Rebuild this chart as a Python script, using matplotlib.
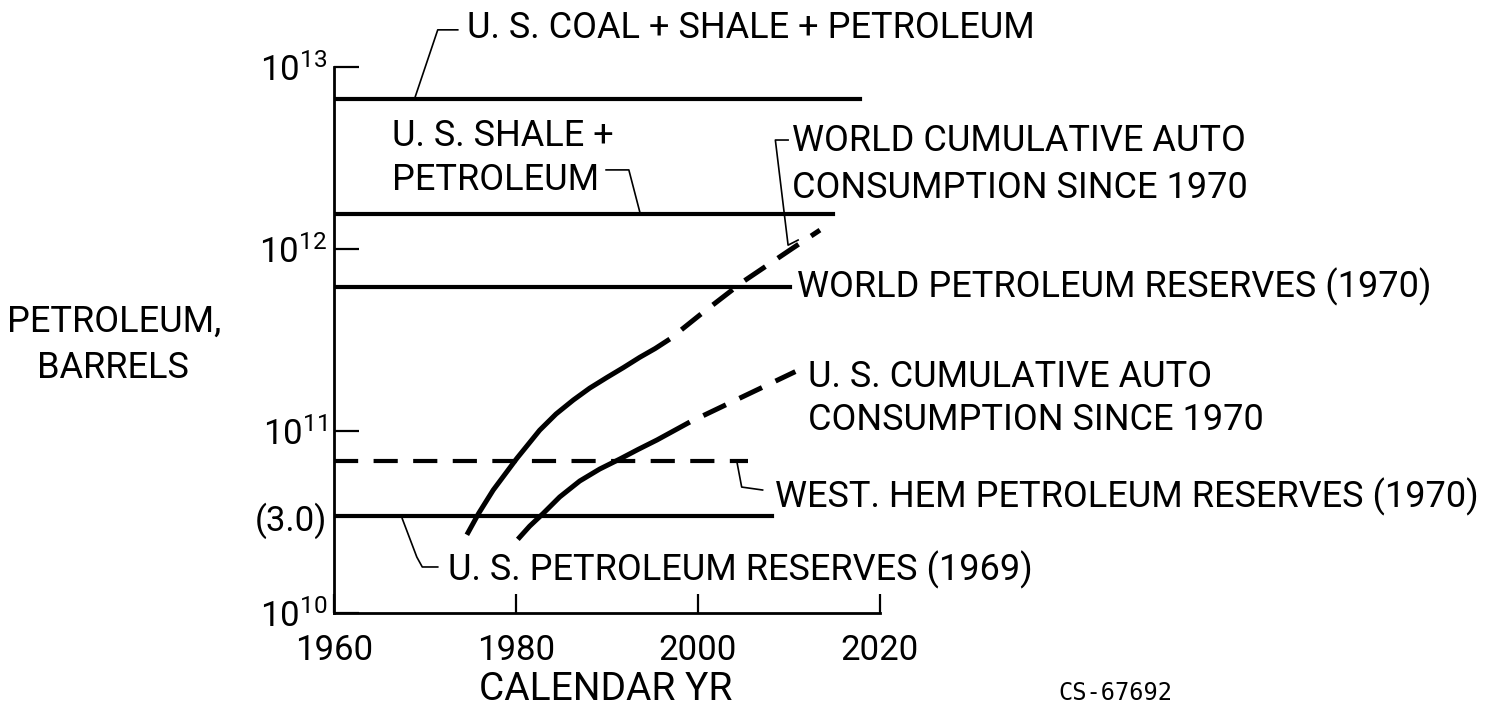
import matplotlib
matplotlib.use("Agg")
import matplotlib.pyplot as plt

plt.rcParams["font.family"] = ["Roboto", "DejaVu Sans"]
plt.rcParams["mathtext.fontset"] = "custom"
plt.rcParams["mathtext.rm"] = "Roboto"

# horizontal reserve levels (barrels) and the year where each drawn line stops
coal_shale_pet = 6.7e12
coal_shale_pet_end = 2017.8
shale_pet = 1.55e12
shale_pet_end = 2014.8
world_reserves = 6.2e11
world_reserves_end = 2010.1
west_hem_reserves = 6.8e10
west_hem_end = 2005.5
us_reserves = 3.4e10
us_reserves_end = 2008.1

# cumulative auto consumption since 1970 (solid = computed, dashed = projection)
world_years = [1974.6, 1975.9, 1977.5, 1980.1, 1982.6, 1984.4, 1986.3, 1988.1, 1990.0,
               1991.8, 1993.6, 1995.3, 1996.9, 2000.2, 2004.9, 2010.4, 2013.4]
world_cum = [2.69e10, 3.53e10, 4.74e10, 7.08e10, 1.01e11, 1.24e11, 1.48e11, 1.72e11, 1.97e11,
             2.23e11, 2.54e11, 2.84e11, 3.20e11, 4.34e11, 6.59e11, 1.01e12, 1.27e12]
world_split = 12

us_years = [1980.2, 1981.5, 1983.0, 1984.8, 1987.0, 1989.2, 1991.4, 1993.4, 1995.5, 1999.1,
            2005.0, 2010.7]
us_cum = [2.54e10, 3.0e10, 3.53e10, 4.34e10, 5.31e10, 6.18e10, 7.01e10, 7.91e10, 8.93e10,
          1.12e11, 1.55e11, 2.12e11]
us_split = 9

x_ticks = [1960, 1980, 2000, 2020]
y_ticks = [1e10, 1e11, 1e12, 1e13, us_reserves]
y_labels = [r"$\mathregular{10^{10}}$", r"$\mathregular{10^{11}}$",
            r"$\mathregular{10^{12}}$", r"$\mathregular{10^{13}}$", "(3.0)"]

FS = 26
LW = 3.0
CLW = 3.6
DASH_H = (5.8, 3.7)

fig = plt.figure(figsize=(14.87, 7.18), dpi=100)
ax = fig.add_axes([334 / 1487, 1 - 613 / 718, 546 / 1487, 546 / 718])
ax.set_yscale("log")
ax.set_xlim(1960, 2020)
ax.set_ylim(1e10, 1e13)

for s in ["top", "right"]:
    ax.spines[s].set_visible(False)
for s in ["left", "bottom"]:
    ax.spines[s].set_linewidth(2.0)

ax.set_xticks(x_ticks)
ax.set_xticklabels([str(x) for x in x_ticks])
ax.set_yticks(y_ticks)
ax.set_yticklabels(y_labels)
ax.minorticks_off()
ax.tick_params(axis="y", direction="in", length=18, width=1.6, labelsize=25, pad=5)
ax.tick_params(axis="x", direction="in", length=14, width=1.6, labelsize=25, pad=15)

# reserve levels
ax.plot([1960, coal_shale_pet_end], [coal_shale_pet] * 2, color="black", lw=LW)
ax.plot([1960, shale_pet_end], [shale_pet] * 2, color="black", lw=LW)
ax.plot([1960, world_reserves_end], [world_reserves] * 2, color="black", lw=LW)
ax.plot([1960, us_reserves_end], [us_reserves] * 2, color="black", lw=LW)
ax.plot([1960, west_hem_end], [west_hem_reserves] * 2, color="black", lw=LW,
        dashes=DASH_H, dash_capstyle="butt")

# consumption curves: solid part, then dashed projection
ax.plot(world_years[:world_split + 1], world_cum[:world_split + 1], color="black", lw=CLW,
        solid_capstyle="butt")
ax.plot(world_years[world_split:], world_cum[world_split:], color="black", lw=CLW,
        linestyle=(5, (5, 3)), dash_capstyle="butt")
ax.plot(us_years[:us_split + 1], us_cum[:us_split + 1], color="black", lw=CLW,
        solid_capstyle="butt")
ax.plot(us_years[us_split:], us_cum[us_split:], color="black", lw=CLW,
        linestyle=(5, (5, 3)), dash_capstyle="butt")


def leader(xs, ys):
    ax.plot(xs, ys, color="black", lw=1.2, clip_on=False)


def label(x, y, s):
    ax.text(x, y, s, fontsize=FS, ha="left", va="center", clip_on=False)


leader([1968.9, 1971.4, 1973.6], [6.8e12, 1.6e13, 1.6e13])
label(1974.6, 1.64e13, "U. S. COAL + SHALE + PETROLEUM")

label(1966.4, 4.2e12, "U. S. SHALE +")
label(1966.4, 2.4e12, "PETROLEUM")
leader([1989.9, 1992.4, 1993.6], [2.72e12, 2.72e12, 1.6e12])

leader([2009.9, 2008.5, 2009.9, 2011.0], [3.97e12, 3.97e12, 1.05e12, 1.12e12])
label(2010.3, 3.9e12, "WORLD CUMULATIVE AUTO")
label(2010.3, 2.15e12, "CONSUMPTION SINCE 1970")

label(2010.9, world_reserves, "WORLD PETROLEUM RESERVES (1970)")

label(2012.1, 1.98e11, "U. S. CUMULATIVE AUTO")
label(2012.1, 1.15e11, "CONSUMPTION SINCE 1970")

leader([2004.3, 2004.8, 2007.1], [6.67e10, 4.92e10, 4.74e10])
label(2008.5, 4.34e10, "WEST. HEM PETROLEUM RESERVES (1970)")

leader([1967.5, 1969.1, 1969.7, 1971.4], [3.3e10, 2.03e10, 1.79e10, 1.79e10])
label(1972.5, 1.72e10, "U. S. PETROLEUM RESERVES (1969)")

fig.text(114 / 1487, 1 - 322 / 718, "PETROLEUM,", fontsize=FS, ha="center", va="center")
fig.text(113 / 1487, 1 - 368 / 718, "BARRELS", fontsize=FS, ha="center", va="center")
fig.text(606 / 1487, 1 - 690 / 718, "CALENDAR YR", fontsize=28, ha="center", va="center")
fig.text(1115 / 1487, 1 - 693 / 718, "CS-67692", fontsize=17, ha="center", va="center",
         family="DejaVu Sans Mono")

fig.savefig("out.png", dpi=100)
